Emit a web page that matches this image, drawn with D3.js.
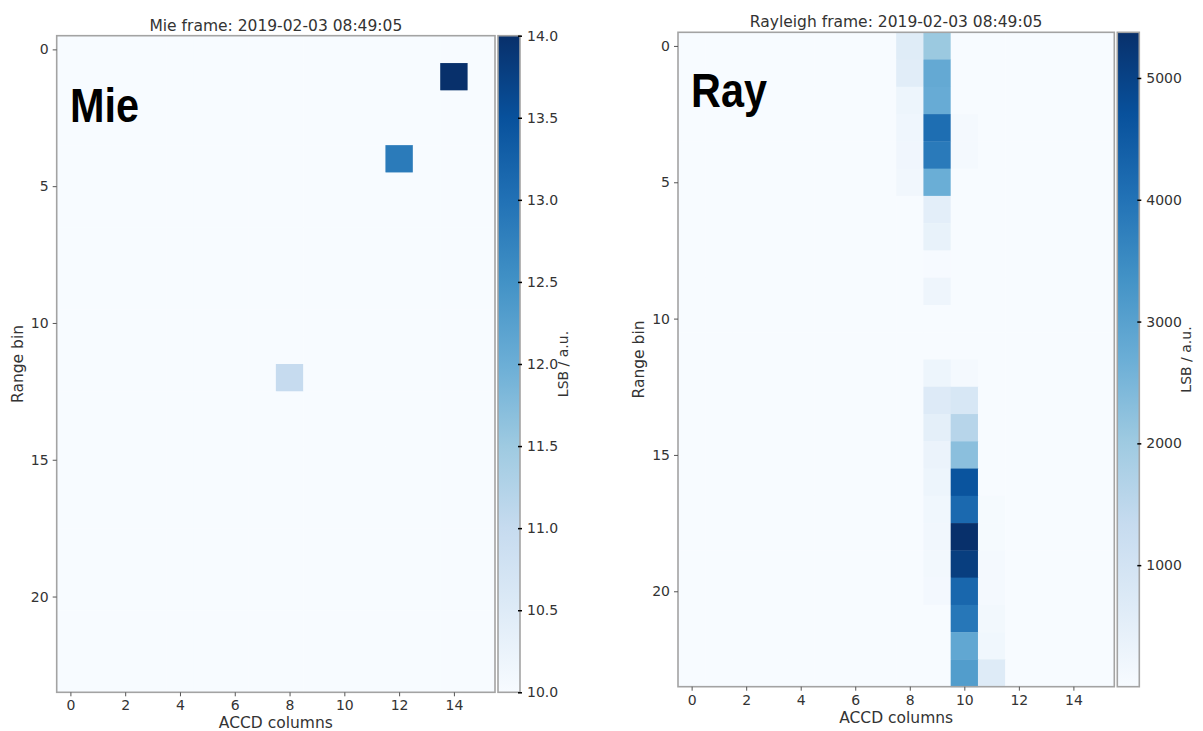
<!DOCTYPE html>
<html>
<head>
<meta charset="utf-8">
<script src="https://cdn.jsdelivr.net/npm/d3@7"></script>
<style>
body { margin: 0; background: #fff; }
text { font-family: "DejaVu Sans", sans-serif; fill: #333; }
</style>
</head>
<body>
<svg id="chart" width="1203" height="731"></svg>
<script>
// data
var nRows = 24;
var nCols = 16;
var colTicks = [0, 2, 4, 6, 8, 10, 12, 14];
var rowTicks = [0, 5, 10, 15, 20];
var mieTicks = [10.0, 10.5, 11.0, 11.5, 12.0, 12.5, 13.0, 13.5, 14.0];
var rayTicks = [1000, 2000, 3000, 4000, 5000];
var mieRange = [10.0, 14.0];
var rayRange = [2, 5375];

// Mie: everything sits at 10 apart from three hot pixels
var mieBase = 10.0;
var mieHot = [
  {row: 1, col: 14, v: 14.0},
  {row: 4, col: 12, v: 12.85},
  {row: 12, col: 8, v: 11.0}
];

// Rayleigh: the signal lives in columns 8-11, others near zero
var rayBase = 2;
var rayCol8  = [650, 600, 260, 210, 200, 160, 2, 2, 2, 2, 2, 2, 2, 2, 2, 2, 2, 2, 2, 2, 2, 2, 2, 2];
var rayCol9  = [2050, 2800, 2750, 4100, 3850, 2700, 540, 400, 30, 240, 2, 2, 260, 700, 520, 330, 270, 180, 160, 140, 120, 2, 2, 2];
var rayCol10 = [2, 2, 2, 90, 90, 2, 2, 2, 2, 2, 2, 2, 80, 860, 1600, 2270, 4650, 4200, 5370, 5100, 4250, 3900, 2850, 3100];
var rayCol11 = [2, 2, 2, 2, 2, 2, 2, 2, 2, 2, 2, 2, 2, 2, 2, 2, 2, 60, 60, 70, 90, 130, 190, 680];

// matplotlib "Blues"
var bluesStops = ['#f7fbff', '#deebf7', '#c6dbef', '#9ecae1', '#6baed6', '#4292c6', '#2171b5', '#08519c', '#08306b'];
var blues = d3.scaleLinear()
  .domain(d3.range(bluesStops.length).map(function(i) { return i / (bluesStops.length - 1); }))
  .range(bluesStops)
  .interpolate(d3.interpolateRgb)
  .clamp(true);

var svg = d3.select('#chart');
var frameColor = '#a3a3a3';

function mieGrid() {
  var cells = [];
  for (var r = 0; r < nRows; r++) {
    for (var c = 0; c < nCols; c++) {
      cells.push({row: r, col: c, v: mieBase});
    }
  }
  mieHot.forEach(function(h) {
    cells[h.row * nCols + h.col].v = h.v;
  });
  return cells;
}

function rayGrid() {
  var cols = {8: rayCol8, 9: rayCol9, 10: rayCol10, 11: rayCol11};
  var cells = [];
  for (var r = 0; r < nRows; r++) {
    for (var c = 0; c < nCols; c++) {
      cells.push({row: r, col: c, v: cols[c] ? cols[c][r] : rayBase});
    }
  }
  return cells;
}

function drawPanel(opt) {
  var g = svg.append('g');
  var x = d3.scaleLinear().domain([-0.5, nCols - 0.5]).range([opt.l, opt.r]);
  var y = d3.scaleLinear().domain([-0.5, nRows - 0.5]).range([opt.t, opt.b]);
  var color = d3.scaleLinear().domain(opt.range).range([0, 1]).clamp(true);

  g.selectAll('.cell')
    .data(opt.cells)
    .enter()
    .append('rect')
    .attr('class', 'cell')
    .attr('x', function(d) { return x(d.col - 0.5); })
    .attr('y', function(d) { return y(d.row - 0.5); })
    .attr('width', x(1) - x(0) + 0.4)
    .attr('height', y(1) - y(0) + 0.4)
    .attr('fill', function(d) { return blues(color(d.v)); });

  g.append('rect')
    .attr('x', opt.l).attr('y', opt.t)
    .attr('width', opt.r - opt.l).attr('height', opt.b - opt.t)
    .attr('fill', 'none').attr('stroke', frameColor).attr('stroke-width', 1.6);

  var xAxis = g.append('g')
    .attr('transform', 'translate(0,' + opt.b + ')')
    .call(d3.axisBottom(x).tickValues(colTicks).tickSize(4).tickPadding(4));
  var yAxis = g.append('g')
    .attr('transform', 'translate(' + opt.l + ',0)')
    .call(d3.axisLeft(y).tickValues(rowTicks).tickSize(4).tickPadding(4));
  [xAxis, yAxis].forEach(function(a) {
    a.select('.domain').remove();
    a.selectAll('line').attr('stroke', '#555');
    a.selectAll('text').style('font-size', '14px').attr('fill', '#333')
      .style('font-family', '"DejaVu Sans", sans-serif');
  });

  g.append('text')
    .attr('x', (opt.l + opt.r) / 2).attr('y', opt.t - 5)
    .attr('text-anchor', 'middle')
    .style('font-size', '15.5px')
    .text(opt.title);

  g.append('text')
    .attr('x', (opt.l + opt.r) / 2).attr('y', opt.b + 36)
    .attr('text-anchor', 'middle')
    .style('font-size', '15.5px')
    .text('ACCD columns');

  g.append('text')
    .attr('transform', 'translate(' + (opt.l - 34) + ',' + ((opt.t + opt.b) / 2) + ') rotate(-90)')
    .attr('text-anchor', 'middle')
    .style('font-size', '15.5px')
    .text('Range bin');

  g.append('text')
    .attr('transform', 'translate(' + opt.tagX + ',' + opt.tagY + ') scale(0.9,1.06)')
    .style('font-family', '"Liberation Sans", Arial, sans-serif')
    .style('font-weight', 'bold')
    .style('font-size', '46px')
    .style('fill', '#000')
    .text(opt.tag);

  // colour bar
  var cbL = opt.r + 3, cbR = cbL + 22;
  var cb = d3.scaleLinear().domain(opt.range).range([opt.b, opt.t]);
  var gradId = 'grad-' + opt.tag;
  var grad = svg.append('defs').append('linearGradient')
    .attr('id', gradId).attr('x1', 0).attr('y1', 1).attr('x2', 0).attr('y2', 0);
  grad.selectAll('stop')
    .data(bluesStops)
    .enter().append('stop')
    .attr('offset', function(d, i) { return i / (bluesStops.length - 1); })
    .attr('stop-color', function(d) { return d; });

  g.append('rect')
    .attr('x', cbL).attr('y', opt.t)
    .attr('width', cbR - cbL).attr('height', opt.b - opt.t)
    .attr('fill', 'url(#' + gradId + ')')
    .attr('stroke', frameColor).attr('stroke-width', 1.6);

  var cbAxis = g.append('g')
    .attr('transform', 'translate(' + cbR + ',0)')
    .call(d3.axisRight(cb).tickValues(opt.ticks).tickSize(4).tickPadding(3).tickFormat(opt.fmt));
  cbAxis.select('.domain').remove();
  cbAxis.selectAll('line').attr('stroke', '#000').attr('stroke-width', 1.5).attr('transform', 'translate(-2,0)');
  cbAxis.selectAll('text').style('font-size', '14px').attr('fill', '#333')
    .style('font-family', '"DejaVu Sans", sans-serif');

  g.append('text')
    .attr('transform', 'translate(' + (cbR + opt.cbLabelDx) + ',' + ((opt.t + opt.b) / 2) + ') rotate(-90)')
    .attr('text-anchor', 'middle')
    .style('font-size', '14px')
    .text('LSB / a.u.');
}

drawPanel({
  l: 56.7, r: 495, t: 35.7, b: 692.3,
  cells: mieGrid(), range: mieRange, ticks: mieTicks, fmt: d3.format('.1f'),
  title: 'Mie frame: 2019-02-03 08:49:05', tag: 'Mie', tagX: 70, tagY: 122,
  cbLabelDx: 48
});

drawPanel({
  l: 678, r: 1114.3, t: 32.3, b: 686.7,
  cells: rayGrid(), range: rayRange, ticks: rayTicks, fmt: d3.format('d'),
  title: 'Rayleigh frame: 2019-02-03 08:49:05', tag: 'Ray', tagX: 691, tagY: 107,
  cbLabelDx: 52
});
</script>
</body>
</html>
